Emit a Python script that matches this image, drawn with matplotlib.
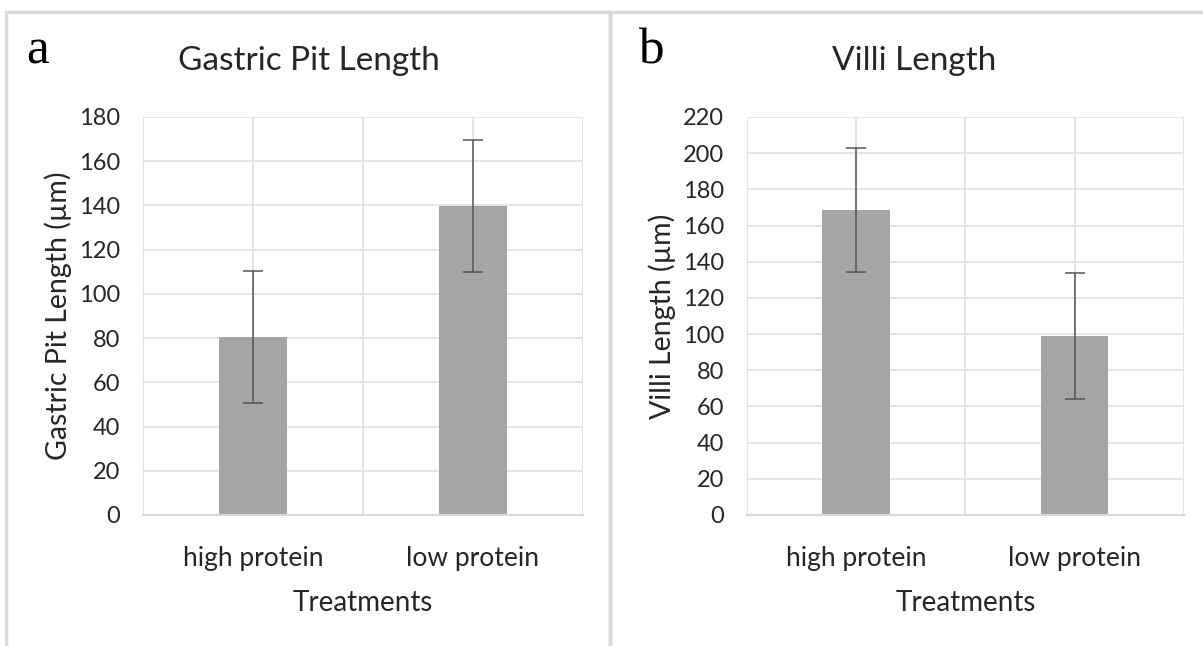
import matplotlib.pyplot as plt
from matplotlib.patches import Rectangle

# data
treatments = ['high protein', 'low protein']
pit_mean = [80.5, 139.7]
pit_err = [29.7, 30.0]
villi_mean = [168.5, 99.0]
villi_err = [34.3, 34.7]

plt.rcParams['font.family'] = ['Lato', 'DejaVu Sans']
BAR = '#a5a5a5'
GRID = '#e3e3e3'
TXT = '#262626'


def panel(ax, means, errs, ymax, ylabel):
    x = range(len(treatments))
    ax.bar(x, means, width=0.31, color=BAR, zorder=2)
    ax.errorbar(x, means, yerr=errs, fmt='none', ecolor='#555555',
                elinewidth=1.1, capsize=7.5, capthick=1.1, zorder=3)
    ax.set_xlim(-0.5, len(treatments) - 0.5)
    ax.set_ylim(0, ymax)
    ax.set_yticks(range(0, ymax + 1, 20))
    ax.set_xticks(list(x))
    ax.set_xticklabels(treatments, fontsize=19, color=TXT)
    ax.set_xticks([-0.5, 0.5, 1.5], minor=True)
    ax.tick_params(axis='both', which='both', length=0, colors=TXT)
    ax.tick_params(axis='y', labelsize=17, pad=16.5)
    ax.tick_params(axis='x', pad=22)
    ax.grid(True, which='both', color=GRID, linewidth=1.3, zorder=0)
    for s in ['top', 'right', 'left']:
        ax.spines[s].set_visible(False)
    ax.spines['bottom'].set_color('#d9d9d9')
    ax.spines['bottom'].set_linewidth(1.5)
    ax.set_axisbelow(True)
    ax.set_xlabel('Treatments', fontsize=20, color=TXT, labelpad=14)
    ax.set_ylabel(ylabel, fontsize=20.5, color=TXT, labelpad=5)


fig = plt.figure(figsize=(12.03, 6.46), dpi=100)

ax1 = fig.add_axes([0.1189, 0.2028, 0.3657, 0.6161])
ax2 = fig.add_axes([0.621, 0.2028, 0.363, 0.6161])
panel(ax1, pit_mean, pit_err, 180, 'Gastric Pit Length (µm)')
panel(ax2, villi_mean, villi_err, 220, 'Villi Length (µm)')

# chart titles centred on each chart area, panel letters
fig.text(0.257, 0.905, 'Gastric Pit Length', fontsize=24, color=TXT,
         ha='center', va='center')
fig.text(0.76, 0.905, 'Villi Length', fontsize=24, color=TXT,
         ha='center', va='center')
fig.text(0.022, 0.92, 'a', fontsize=37, family='Liberation Serif',
         ha='left', va='center')
fig.text(0.530, 0.92, 'b', fontsize=37, family='Liberation Serif',
         ha='left', va='center')

# light grey chart-area borders
for x0, w in [(6 / 1203, 604 / 1203), (610 / 1203, 600 / 1203)]:
    fig.add_artist(Rectangle((x0, -0.1), w, 1 - 12 / 646 + 0.1,
                             transform=fig.transFigure, fill=False,
                             edgecolor='#d9d9d9', linewidth=2.5))

fig.savefig('out.png', dpi=100)
